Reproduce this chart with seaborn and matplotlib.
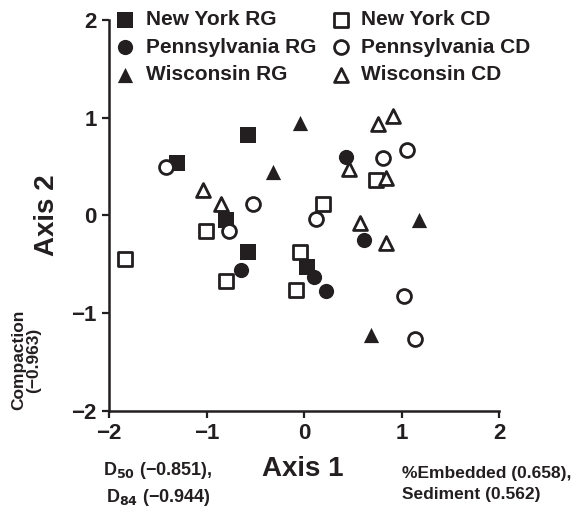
import pandas as pd
import matplotlib.pyplot as plt
import seaborn as sns

# NMS ordination scores
ny_rg_x = [-1.30, -0.57, -0.80, -0.57, 0.03]
ny_rg_y = [0.54, 0.82, -0.05, -0.37, -0.53]
ny_cd_x = [-1.84, -1.01, -0.80, -0.04, -0.08, 0.19, 0.74]
ny_cd_y = [-0.45, -0.16, -0.67, -0.37, -0.76, 0.12, 0.36]
pa_rg_x = [-0.65, 0.10, 0.23, 0.43, 0.61]
pa_rg_y = [-0.56, -0.63, -0.77, 0.60, -0.25]
pa_cd_x = [-1.42, -0.77, -0.52, 0.12, 0.81, 1.06, 1.03, 1.14]
pa_cd_y = [0.50, -0.16, 0.12, -0.04, 0.59, 0.67, -0.83, -1.27]
wi_rg_x = [-0.04, -0.32, 1.18, 0.69]
wi_rg_y = [0.95, 0.44, -0.05, -1.22]
wi_cd_x = [-1.04, -0.85, 0.46, 0.76, 0.91, 0.84, 0.57, 0.84]
wi_cd_y = [0.26, 0.12, 0.47, 0.94, 1.02, 0.38, -0.08, -0.28]

ticks = [-2, -1, 0, 1, 2]

groups = [
    ('New York RG', ny_rg_x, ny_rg_y, 's', True),
    ('New York CD', ny_cd_x, ny_cd_y, 's', False),
    ('Pennsylvania RG', pa_rg_x, pa_rg_y, 'o', True),
    ('Pennsylvania CD', pa_cd_x, pa_cd_y, 'o', False),
    ('Wisconsin RG', wi_rg_x, wi_rg_y, '^', True),
    ('Wisconsin CD', wi_cd_x, wi_cd_y, '^', False),
]

ink = '#231f20'
sns.set_style('ticks')
plt.rcParams['font.family'] = ['Liberation Sans', 'DejaVu Sans']
plt.rcParams['font.weight'] = 'bold'

fig = plt.figure(figsize=(5.83, 5.24), dpi=100)
ax = fig.add_axes([0.187, 0.216, 0.669, 0.746])

for name, xs, ys, mk, filled in groups:
    df = pd.DataFrame({'x': xs, 'y': ys})
    sns.scatterplot(data=df, x='x', y='y', ax=ax, marker=mk,
                    s=120 if filled else 100,
                    color=ink if filled else 'white', edgecolor=ink,
                    linewidth=0 if filled else 2.0, label=name, zorder=3)

ax.set_xlim(-2, 2)
ax.set_ylim(-2, 2)
ax.set_xticks(ticks)
ax.set_yticks(ticks)
ax.tick_params(width=1.6, length=5, labelsize=16, colors=ink, pad=4)
for lab in ax.get_xticklabels() + ax.get_yticklabels():
    lab.set_fontweight('bold')
for side in ['top', 'right']:
    ax.spines[side].set_visible(False)
for side in ['left', 'bottom']:
    ax.spines[side].set_linewidth(1.8)
    ax.spines[side].set_color(ink)

ax.set_xlabel('')
ax.set_ylabel('')
fig.text(303 / 583, 1 - 469 / 524, 'Axis 1', ha='center', va='center',
         fontsize=20, fontweight='bold', color=ink)
fig.text(47 / 583, 1 - 215 / 524, 'Axis 2', ha='center', va='center',
         rotation=90, fontsize=20, fontweight='bold', color=ink)
fig.text(158 / 583, 1 - 484 / 524, 'D$_{\\mathbf{50}}$ (\u22120.851),\nD$_{\\mathbf{84}}$ (\u22120.944)',
         ha='center', va='center', fontsize=13, fontweight='bold', color=ink,
         linespacing=1.45)
fig.text(402 / 583, 1 - 484 / 524, '%Embedded (0.658),\nSediment (0.562)',
         ha='left', va='center', fontsize=12.5, fontweight='bold', color=ink,
         linespacing=1.45)
fig.text(26 / 583, 1 - 360 / 524, 'Compaction\n(\u22120.963)', ha='center', va='center',
         rotation=90, fontsize=12.5, fontweight='bold', color=ink, linespacing=1.0)

handles, labels = ax.get_legend_handles_labels()
order = [0, 2, 4, 1, 3, 5]
ax.legend([handles[i] for i in order], [labels[i] for i in order], ncol=2,
          frameon=False, loc='upper left', bbox_to_anchor=(116 / 583, 1 - 10 / 524),
          bbox_transform=fig.transFigure, borderaxespad=0, borderpad=0,
          handlelength=0.9, handletextpad=0.55, columnspacing=0.7,
          labelspacing=0.42, prop={'size': 15, 'weight': 'bold'},
          labelcolor=ink, markerscale=1.0)

plt.savefig('out.png', dpi=100)
